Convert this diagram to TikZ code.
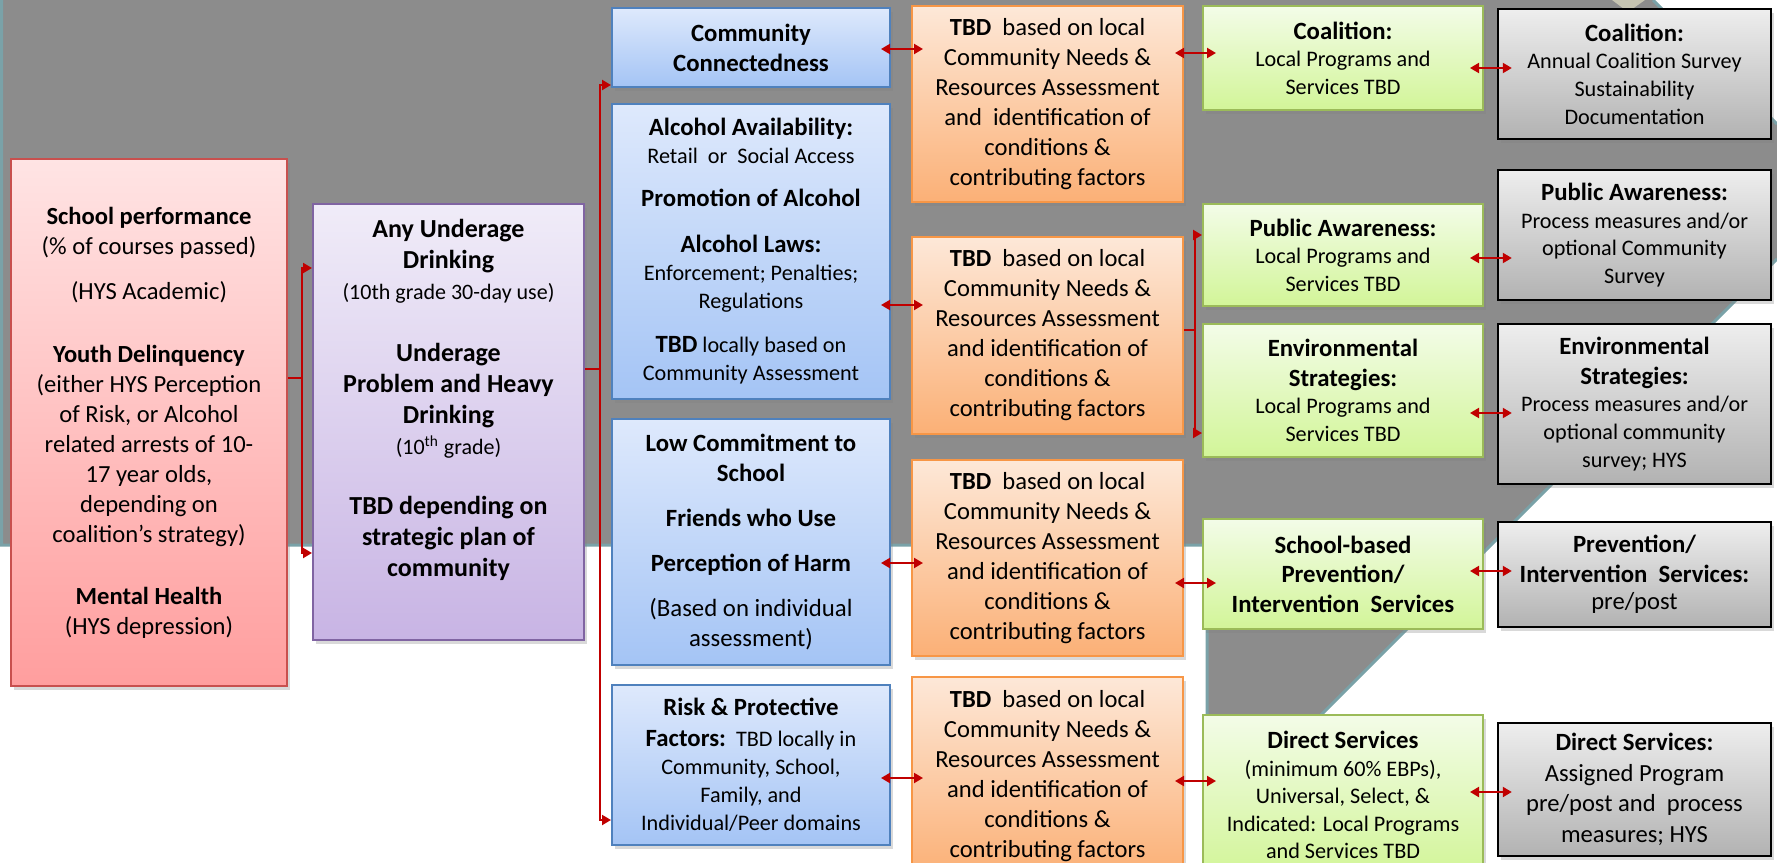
\documentclass[tikz,border=0pt]{standalone}
\usepackage{fontspec}
\setmainfont{Carlito}
\usetikzlibrary{arrows.meta,shadows}

\definecolor{bggray}{RGB}{140,140,140}
\definecolor{bgedge}{RGB}{122,162,168}
\definecolor{linkred}{RGB}{192,0,0}
\definecolor{pinktop}{RGB}{255,228,228}
\definecolor{pinkbot}{RGB}{255,158,158}
\definecolor{pinkline}{RGB}{200,80,78}
\definecolor{purptop}{RGB}{240,236,248}
\definecolor{purpbot}{RGB}{200,180,228}
\definecolor{purpline}{RGB}{128,100,162}
\definecolor{bluetop}{RGB}{222,233,252}
\definecolor{bluebot}{RGB}{164,196,245}
\definecolor{blueline}{RGB}{79,129,189}
\definecolor{orgtop}{RGB}{253,232,216}
\definecolor{orgbot}{RGB}{251,176,118}
\definecolor{orgline}{RGB}{247,150,70}
\definecolor{grntop}{RGB}{243,252,232}
\definecolor{grnbot}{RGB}{210,245,152}
\definecolor{grnline}{RGB}{155,187,89}
\definecolor{gretop}{RGB}{238,238,238}
\definecolor{grebot}{RGB}{178,178,178}

\newcommand{\hd}{\fontsize{12.4}{14}\selectfont\bfseries}

\tikzset{
  box/.style={draw, line width=1pt, align=center, inner sep=2pt,
    drop shadow={shadow xshift=1.5pt, shadow yshift=-2pt, opacity=0.3}},
  pinkbox/.style={box, draw=pinkline, top color=pinktop, bottom color=pinkbot,
    font=\fontsize{12.3}{15}\selectfont},
  purpbox/.style={box, draw=purpline, top color=purptop, bottom color=purpbot,
    font=\fontsize{13}{15.5}\selectfont\bfseries},
  bluebox/.style={box, draw=blueline, top color=bluetop, bottom color=bluebot,
    minimum width=139pt, font=\fontsize{11.1}{14}\selectfont},
  orgbox/.style={box, draw=orgline, top color=orgtop, bottom color=orgbot,
    minimum width=135.5pt, font=\fontsize{12.3}{15}\selectfont},
  grnbox/.style={box, draw=grnline, top color=grntop, bottom color=grnbot,
    minimum width=140pt, font=\fontsize{11.1}{13.8}\selectfont},
  grebox/.style={box, draw=black, line width=1.2pt, top color=gretop, bottom color=grebot,
    minimum width=136.5pt, font=\fontsize{11.1}{13.8}\selectfont},
  link/.style={draw=linkred, line width=1pt},
  linkto/.style={link, -{Triangle[length=4.5pt,width=5pt]}},
  twoway/.style={link, {Triangle[length=4.5pt,width=5pt]}-{Triangle[length=4.5pt,width=5pt]}},
}

\begin{document}
\begin{tikzpicture}[x=0.5pt, y=-0.5pt]
\useasboundingbox (0,0) rectangle (1777,862);

% background band
\fill[bggray] (0,0) -- (1653,0) -- (1777,124) -- (1777,259) -- (1207,829)
  -- (1207,545) -- (0,545) -- cycle;
\draw[bgedge, line width=1.5pt] (1653,0) -- (1777,124);
\draw[bgedge, line width=1.5pt] (1777,259) -- (1207,829) -- (1207,545) -- (1.5,545) -- (1.5,0);
\fill[black!15!yellow!20!gray!60] (1612,0) -- (1645,0) -- (1628,12) -- cycle;

% outcomes
\node[pinkbox, minimum width=138pt, minimum height=263.5pt] (school) at (149,422.5) {%
  {\bfseries School performance}\\
  (\% of courses passed)\\[7.5pt]
  (HYS Academic)\\[16.5pt]
  {\bfseries Youth Delinquency}\\
  (either HYS Perception\\
  of Risk, or Alcohol\\
  related arrests of 10-\\
  17 year olds,\\
  depending on\\
  coalition’s strategy)\\[16pt]
  {\bfseries Mental Health}\\
  (HYS depression)};

\node[purpbox, minimum width=135.5pt, minimum height=218pt] (under) at (448.5,422) {%
  Any Underage\\
  Drinking\\
  {\mdseries\fontsize{11}{13}\selectfont (10th grade 30-day use)}\\[15.5pt]
  Underage\\
  Problem and Heavy\\
  Drinking\\
  {\mdseries\fontsize{11}{13}\selectfont (10\textsuperscript{th} grade)}\\[14.5pt]
  TBD depending on\\
  strategic plan of\\
  community\\[9pt]\mbox{}};

% intervening variables
\node[bluebox, minimum height=39.5pt] (conn) at (751,47.5) {%
  {\hd Community}\\[1pt]
  {\hd Connectedness}};

\node[bluebox, minimum height=147.5pt] (alc) at (751,251.5) {%
  {\hd Alcohol Availability:}\\
  Retail\ \ or\ \ Social Access\\[7.5pt]
  {\hd Promotion of Alcohol}\\[9pt]
  {\hd Alcohol Laws:}\\
  Enforcement; Penalties;\\
  Regulations\\[8pt]
  {\hd TBD} locally based on\\
  Community Assessment};

\node[bluebox, minimum height=123pt] (low) at (751,542) {%
  {\hd Low Commitment to}\\[1pt]
  {\hd School}\\[8.5pt]
  {\hd Friends who Use}\\[8.5pt]
  {\hd Perception of Harm}\\[8.5pt]
  {\fontsize{12.4}{14}\selectfont (Based on individual}\\[1pt]
  {\fontsize{12.4}{14}\selectfont assessment)}};

\node[bluebox, minimum height=80pt] (risk) at (751,765) {%
  {\hd Risk \& Protective}\\[1.5pt]
  {\hd Factors:}\ \ TBD locally in\\
  Community, School,\\
  Family, and\\
  Individual/Peer domains};

% local conditions
\node[orgbox, minimum height=98pt] (tbd1) at (1047.5,104) {%
  \textbf{TBD}\ \ based on local\\
  Community Needs \&\\
  Resources Assessment\\
  and\ \ identification of\\
  conditions \&\\
  contributing factors};

\node[orgbox, minimum height=98.5pt] (tbd2) at (1047.5,335.5) {%
  \textbf{TBD}\ \ based on local\\
  Community Needs \&\\
  Resources Assessment\\
  and identification of\\
  conditions \&\\
  contributing factors};

\node[orgbox, minimum height=98pt] (tbd3) at (1047.5,558) {%
  \textbf{TBD}\ \ based on local\\
  Community Needs \&\\
  Resources Assessment\\
  and identification of\\
  conditions \&\\
  contributing factors};

\node[orgbox, minimum height=99pt] (tbd4) at (1047.5,776) {%
  \textbf{TBD}\ \ based on local\\
  Community Needs \&\\
  Resources Assessment\\
  and identification of\\
  conditions \&\\
  contributing factors};

% strategies
\node[grnbox, minimum height=52pt] (coal) at (1343,58) {%
  {\hd Coalition:}\\
  Local Programs and\\
  Services TBD};

\node[grnbox, minimum height=51pt] (aware) at (1343,255) {%
  {\hd Public Awareness:}\\
  Local Programs and\\
  Services TBD};

\node[grnbox, minimum height=66.5pt] (env) at (1343,390.5) {%
  {\hd Environmental}\\[1pt]
  {\hd Strategies:}\\
  Local Programs and\\
  Services TBD};

\node[grnbox, minimum height=55pt] (sbps) at (1343,574) {%
  {\hd School-based}\\[1pt]
  {\hd Prevention/}\\[1pt]
  {\hd Intervention\ \ Services}};

\node[grnbox, minimum height=80pt] (direct) at (1343,795) {%
  {\hd Direct Services}\\
  (minimum 60\% EBPs),\\
  Universal, Select, \&\\
  Indicated: Local Programs\\
  and Services TBD};

% measures
\node[grebox, minimum height=65pt] (coalm) at (1634.5,74) {%
  {\hd Coalition:}\\
  Annual Coalition Survey\\
  Sustainability\\
  Documentation};

\node[grebox, minimum height=65pt] (awarem) at (1634.5,235) {%
  {\hd Public Awareness:}\\
  Process measures and/or\\
  optional Community\\
  Survey};

\node[grebox, minimum height=80pt] (envm) at (1634.5,404) {%
  {\hd Environmental}\\[1pt]
  {\hd Strategies:}\\
  Process measures and/or\\
  optional community\\
  survey; HYS};

\node[grebox, minimum height=52.5pt] (prevm) at (1634.5,574.5) {%
  {\hd Prevention/}\\[1pt]
  {\hd Intervention\ \ Services:}\\
  {\fontsize{12.3}{14}\selectfont pre/post}};

\node[grebox, minimum height=66.5pt] (directm) at (1634.5,789.5) {%
  {\hd Direct Services:}\\[1.5pt]
  {\fontsize{12.3}{15}\selectfont Assigned Program}\\[1.5pt]
  {\fontsize{12.3}{15}\selectfont pre/post and\ \ process}\\[1.5pt]
  {\fontsize{12.3}{15}\selectfont measures; HYS}};

% outcomes -> problems
\coordinate (j1) at (302,378);
\draw[link] (school.east |- j1) -- (j1);
\draw[linkto] (j1) |- (under.west |- 0,268);
\draw[linkto] (j1) |- (under.west |- 0,553);

% problems -> intervening variables
\coordinate (j2) at (600,369);
\draw[link] (under.east |- j2) -- (j2);
\draw[linkto] (j2) |- (conn.west |- 0,85);
\draw[linkto] (j2) |- (risk.west |- 0,820);

% intervening variables <-> local conditions
\draw[twoway, shorten <=-5pt, shorten >=-6pt] (conn.east |- 0,49) -- (tbd1.west |- 0,49);
\draw[twoway, shorten <=-5pt, shorten >=-6pt] (alc.east |- 0,305) -- (tbd2.west |- 0,305);
\draw[twoway, shorten <=-5pt, shorten >=-6pt] (low.east |- 0,563) -- (tbd3.west |- 0,563);
\draw[twoway, shorten <=-5pt, shorten >=-6pt] (risk.east |- 0,778) -- (tbd4.west |- 0,778);

% local conditions -> strategies
\draw[twoway, shorten <=-4.5pt, shorten >=-7pt] (tbd1.east |- 0,53) -- (coal.west |- 0,53);
\coordinate (j3) at (1195,330);
\draw[link] (tbd2.east |- j3) -- (j3);
\draw[linkto] (j3) |- (aware.west |- 0,235);
\draw[linkto] (j3) |- (env.west |- 0,433);
\draw[twoway, shorten <=-4.5pt, shorten >=-7pt] (tbd3.east |- 0,583) -- (sbps.west |- 0,583);
\draw[twoway, shorten <=-4.5pt, shorten >=-7pt] (tbd4.east |- 0,781) -- (direct.west |- 0,781);

% strategies <-> measures
\draw[twoway, shorten <=-7pt, shorten >=-7.5pt] (coal.east |- 0,68) -- (coalm.west |- 0,68);
\draw[twoway, shorten <=-7pt, shorten >=-7.5pt] (aware.east |- 0,258) -- (awarem.west |- 0,258);
\draw[twoway, shorten <=-7pt, shorten >=-7.5pt] (env.east |- 0,413) -- (envm.west |- 0,413);
\draw[twoway, shorten <=-7pt, shorten >=-7.5pt] (sbps.east |- 0,571) -- (prevm.west |- 0,571);
\draw[twoway, shorten <=-7pt, shorten >=-7.5pt] (direct.east |- 0,792) -- (directm.west |- 0,792);
\end{tikzpicture}
\end{document}
